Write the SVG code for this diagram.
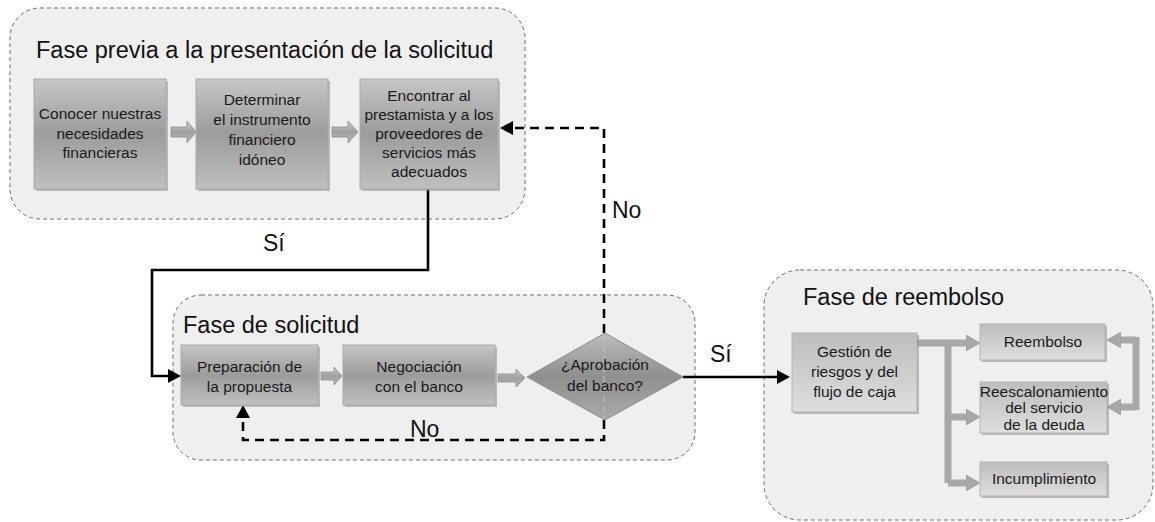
<svg xmlns="http://www.w3.org/2000/svg" width="1155" height="522" viewBox="0 0 1155 522">
<style>
.cont{fill:#efefef;stroke:#6e6e6e;stroke-width:1;stroke-dasharray:4 3}
.box{fill:url(#gBox);stroke:#a9a9a9;stroke-width:1}
.boxl{fill:url(#gLight);stroke:#b3b3b3;stroke-width:1}
.sh{fill:#8a8a8a;opacity:.55}
.dia{fill:url(#gDia);stroke:#8f8f8f;stroke-width:1}
.t{font-family:"Liberation Sans",Arial,sans-serif;font-size:15.5px;fill:#1a1a1a;text-anchor:middle}
.h{font-family:"Liberation Sans",Arial,sans-serif;font-size:23.5px;fill:#111}
.lbl{font-family:"Liberation Sans",Arial,sans-serif;font-size:23px;fill:#111}
.conn{fill:none;stroke:#000;stroke-width:2.6}
.dash{stroke-dasharray:9 6}
.gbar{fill:none;stroke:#a8a8a8;stroke-width:7}
.barr{fill:url(#gArr);stroke:#8e8e8e;stroke-width:.8}
</style>
<defs>
<linearGradient id="gBox" x1="0" y1="0" x2="0" y2="1">
<stop offset="0" stop-color="#c6c6c6"/><stop offset=".5" stop-color="#9c9c9c"/><stop offset="1" stop-color="#c0c0c0"/>
</linearGradient>
<linearGradient id="gLight" x1="0" y1="0" x2="0" y2="1">
<stop offset="0" stop-color="#bdbdbd"/><stop offset="1" stop-color="#dedede"/>
</linearGradient>
<linearGradient id="gDia" x1="0" y1="0" x2="0" y2="1">
<stop offset="0" stop-color="#bdbdbd"/><stop offset=".5" stop-color="#8f8f8f"/><stop offset="1" stop-color="#aaaaaa"/>
</linearGradient>
<linearGradient id="gArr" x1="0" y1="0" x2="0" y2="1">
<stop offset="0" stop-color="#cfcfcf"/><stop offset=".5" stop-color="#a0a0a0"/><stop offset="1" stop-color="#b8b8b8"/>
</linearGradient>
<marker id="blk" markerUnits="userSpaceOnUse" markerWidth="13" markerHeight="14" refX="0" refY="7" orient="auto">
<path d="M0,0 L13,7 L0,14 z" fill="#000"/>
</marker>
<marker id="gray" markerUnits="userSpaceOnUse" markerWidth="14" markerHeight="16" refX="0" refY="8" orient="auto">
<path d="M0,0 L14,8 L0,16 z" fill="#a8a8a8" stroke="#909090" stroke-width=".6"/>
</marker>
</defs>

<g id="phase-pre">
<rect class="cont" x="10" y="8" width="515" height="211" rx="30"/>
<text class="h" x="36" y="58">Fase previa a la presentación de la solicitud</text>
</g>
<g id="phase-solicitud">
<rect class="cont" x="173" y="295" width="522" height="165" rx="28"/>
<text class="h" x="183" y="333">Fase de solicitud</text>
</g>
<g id="phase-reembolso">
<rect class="cont" x="764" y="270" width="389" height="250" rx="36"/>
<text class="h" x="803" y="305">Fase de reembolso</text>
</g>

<g id="connectors">
<path class="conn" d="M428,189 V270 H152 V376 H168" marker-end="url(#blk)"/>
<path class="conn dash" d="M604,333 V128 H513" marker-end="url(#blk)"/>
<path class="conn dash" d="M604,420 V440 H243 V418" marker-end="url(#blk)"/>
<path class="conn" d="M683,377 H777" marker-end="url(#blk)"/>
<path class="barr" d="M171,127 H187 V121 L196,132 L187,143 V137 H171 Z"/>
<path class="barr" d="M332,127 H348 V121 L358,132 L348,143 V137 H332 Z"/>
<path class="barr" d="M321,372 H334 V367 L342,376 L334,385 V380 H321 Z"/>
<path class="barr" d="M498,374 H516 V369 L525,378 L516,387 V382 H498 Z"/>
<path class="gbar" d="M917,343 H966" marker-end="url(#gray)"/>
<path class="gbar" d="M948,343 V483"/>
<path class="gbar" d="M948,417 H966" marker-end="url(#gray)"/>
<path class="gbar" d="M948,483 H966" marker-end="url(#gray)"/>
<path class="gbar" d="M1136,340 H1121" marker-end="url(#gray)"/>
<path class="gbar" d="M1136,337 V410"/>
<path class="gbar" d="M1136,407 H1121" marker-end="url(#gray)"/>
<text class="lbl" x="263" y="251">Sí</text>
<text class="lbl" x="612" y="218">No</text>
<text class="lbl" x="410" y="437">No</text>
<text class="lbl" x="710" y="362">Sí</text>
</g>

<g id="n-conocer">
<rect class="sh" x="36" y="81" width="132" height="110"/>
<rect class="box" x="34" y="79" width="132" height="110"/>
<text class="t" x="100" y="119">Conocer nuestras</text>
<text class="t" x="100" y="139">necesidades</text>
<text class="t" x="100" y="158">financieras</text>
</g>
<g id="n-determinar">
<rect class="sh" x="198" y="81" width="132" height="110"/>
<rect class="box" x="196" y="79" width="132" height="110"/>
<text class="t" x="262" y="105">Determinar</text>
<text class="t" x="262" y="125">el instrumento</text>
<text class="t" x="262" y="145">financiero</text>
<text class="t" x="262" y="165">idóneo</text>
</g>
<g id="n-encontrar">
<rect class="sh" x="362" y="81" width="138" height="110"/>
<rect class="box" x="360" y="79" width="138" height="110"/>
<text class="t" x="429" y="101">Encontrar al</text>
<text class="t" x="429" y="120">prestamista y a los</text>
<text class="t" x="429" y="139">proveedores de</text>
<text class="t" x="429" y="158">servicios más</text>
<text class="t" x="429" y="177">adecuados</text>
</g>
<g id="n-preparacion">
<rect class="sh" x="183" y="347" width="137" height="60"/>
<rect class="box" x="181" y="345" width="137" height="60"/>
<text class="t" x="249.5" y="372">Preparación de</text>
<text class="t" x="249.5" y="392">la propuesta</text>
</g>
<g id="n-negociacion">
<rect class="sh" x="345" y="347" width="152" height="60"/>
<rect class="box" x="343" y="345" width="152" height="60"/>
<text class="t" x="419" y="372">Negociación</text>
<text class="t" x="419" y="392">con el banco</text>
</g>
<g id="n-aprobacion">
<polygon class="dia" points="605,333 683,377 605,420 527,377"/>
<path d="M604,336 V418" fill="none" stroke="#c4c4c4" stroke-width="1" stroke-dasharray="6 4"/>
<text class="t" x="605" y="370">¿Aprobación</text>
<text class="t" x="605" y="391">del banco?</text>
</g>
<g id="n-gestion">
<rect class="sh" x="794" y="335" width="125" height="79"/>
<rect class="boxl" x="792" y="333" width="125" height="79"/>
<text class="t" x="854.5" y="357">Gestión de</text>
<text class="t" x="854.5" y="377">riesgos y del</text>
<text class="t" x="854.5" y="397">flujo de caja</text>
</g>
<g id="n-reembolso">
<rect class="sh" x="982" y="326" width="125" height="36"/>
<rect class="boxl" x="980" y="324" width="125" height="36"/>
<text class="t" x="1043" y="347">Reembolso</text>
</g>
<g id="n-reescalonamiento">
<rect class="sh" x="982" y="384" width="127" height="51"/>
<rect class="boxl" x="980" y="382" width="127" height="51"/>
<text class="t" x="1044" y="397">Reescalonamiento</text>
<text class="t" x="1044" y="413">del servicio</text>
<text class="t" x="1044" y="430">de la deuda</text>
</g>
<g id="n-incumplimiento">
<rect class="sh" x="982" y="464" width="127" height="34"/>
<rect class="boxl" x="980" y="462" width="127" height="34"/>
<text class="t" x="1044" y="484">Incumplimiento</text>
</g>
</svg>
